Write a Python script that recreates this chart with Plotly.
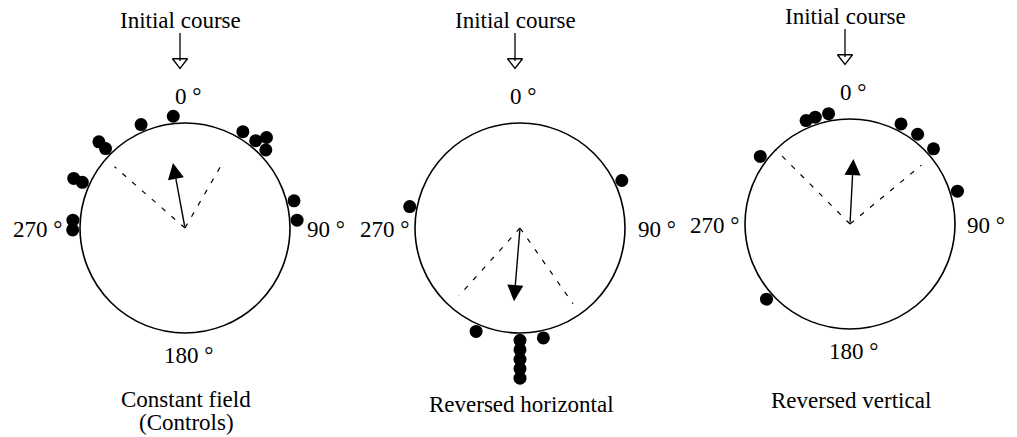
import numpy as np
import plotly.graph_objects as go

# ---------------- data ----------------
panel_titles = ["Constant field<br>(Controls)", "Reversed horizontal", "Reversed vertical"]

ctrl_angles = [354, 337, 315, 315, 294, 294, 274, 269, 31, 39, 42, 46, 76, 86]
ctrl_stack = [0, 0, 1, 0, 1, 0, 0, 0, 0, 0, 1, 0, 0, 0]

horiz_angles = [65, 281, 203, 168, 180, 180, 180, 180, 180]
horiz_stack = [0, 0, 0, 0, 0, 1, 2, 3, 4]

vert_angles = [337, 342, 349, 307, 27, 37, 48, 73, 228]
vert_stack = [0, 0, 0, 0, 0, 0, 0, 0, 0]

mean_angle = [349.5, 184.7, 3.0]
mean_length = [0.63, 0.70, 0.62]

ci_low_angle = [311, 222, 315]
ci_low_len = [0.89, 0.87, 1.0]
ci_high_angle = [30, 145, 50.5]
ci_high_len = [0.73, 0.88, 0.88]

compass_labels = ["0 °", "90 °", "180 °", "270 °"]
show_180 = [True, False, True]
top_label = "Initial course"

# ---------------- layout constants ----------------
FIG_W, FIG_H = 1017, 437
R_PX = 105.0
centers = [(185, 228), (520, 228), (850, 224)]
PANEL_W = 330
FONT = "Liberation Serif, Times New Roman, serif"
FS = 23
DOT_R0 = 1.07
DOT_STEP = 0.09
LINE_GAP = 23
title_offsets = [171, 176, 176]

ew_offsets = [(-148, 141), (-136, 137), (-136, 136)]


def polar_xy(ang, r):
    a = np.deg2rad(np.asarray(ang, dtype=float))
    r = np.asarray(r, dtype=float)
    return r * np.sin(a), r * np.cos(a)


fig = go.Figure()
annotations = []
shapes = []

dot_sets = [(ctrl_angles, ctrl_stack), (horiz_angles, horiz_stack), (vert_angles, vert_stack)]

for i, (cx, cy) in enumerate(centers):
    suffix = "" if i == 0 else str(i + 1)
    xref, yref = "x" + suffix, "y" + suffix
    xa, ya = "xaxis" + suffix, "yaxis" + suffix
    half = PANEL_W / 2.0
    fig.update_layout({
        xa: dict(domain=[max(0, (cx - half) / FIG_W), min(1, (cx + half) / FIG_W)],
                 range=[-half / R_PX, half / R_PX], visible=False, fixedrange=True),
        ya: dict(domain=[0, 1], range=[-(FIG_H - cy) / R_PX, cy / R_PX],
                 visible=False, fixedrange=True),
    })

    def to_data(dx_px, dy_px):
        return dx_px / R_PX, -dy_px / R_PX

    def label(dx_px, dy_px, txt):
        x, y = to_data(dx_px, dy_px)
        annotations.append(dict(x=x, y=y, xref=xref, yref=yref, text=txt, showarrow=False,
                                font=dict(family=FONT, size=FS, color="black"),
                                xanchor="center", yanchor="middle"))

    # circle
    shapes.append(dict(type="circle", xref=xref, yref=yref, x0=-1, y0=-1, x1=1, y1=1,
                       line=dict(color="black", width=1.6)))

    # confidence limits (dashed)
    for ang, ln in ((ci_low_angle[i], ci_low_len[i]), (ci_high_angle[i], ci_high_len[i])):
        ex, ey = polar_xy([0, ang], [0, ln])
        fig.add_trace(go.Scatter(x=ex, y=ey, mode="lines", xaxis=xref, yaxis=yref,
                                 line=dict(color="black", width=1.2, dash="5px,8px"),
                                 hoverinfo="skip", showlegend=False))

    # mean vector arrow
    tx, ty = polar_xy(mean_angle[i], mean_length[i])
    annotations.append(dict(x=float(tx), y=float(ty), ax=0, ay=0, xref=xref, yref=yref,
                            axref=xref, ayref=yref, text="", showarrow=True,
                            arrowhead=2, arrowsize=2.3, arrowwidth=1.4, arrowcolor="black",
                            standoff=0))

    # dots
    angs, stk = dot_sets[i]
    rr = DOT_R0 + DOT_STEP * np.asarray(stk)
    dx, dy = polar_xy(angs, rr)
    fig.add_trace(go.Scatter(x=dx, y=dy, mode="markers", xaxis=xref, yaxis=yref,
                             marker=dict(color="black", size=13, line=dict(width=0)),
                             cliponaxis=False, hoverinfo="skip", showlegend=False))

    # Initial course arrow
    lx, ly_top = to_data(-5, -195)
    _, ly_bot = to_data(-5, -167)
    fig.add_trace(go.Scatter(x=[lx, lx], y=[ly_top, ly_bot], mode="lines", xaxis=xref, yaxis=yref,
                             line=dict(color="black", width=1.3), hoverinfo="skip", showlegend=False))
    _, tri_y = to_data(-5, -166)
    fig.add_trace(go.Scatter(x=[lx], y=[tri_y], mode="markers", xaxis=xref, yaxis=yref,
                             marker=dict(symbol="triangle-down-open", size=13, color="black",
                                         line=dict(width=1.3, color="black")),
                             cliponaxis=False, hoverinfo="skip", showlegend=False))
    label(-5, -208, top_label)

    # compass labels
    label(3, -132, compass_labels[0])
    label(ew_offsets[i][1], 1, compass_labels[1])
    label(ew_offsets[i][0], 1, compass_labels[3])
    if show_180[i]:
        label(3, 127, compass_labels[2])

    # panel title (one annotation per line for tight spacing)
    for k, line_txt in enumerate(panel_titles[i].split("<br>")):
        label(1, title_offsets[i] + k * LINE_GAP, line_txt)

fig.update_layout(width=FIG_W, height=FIG_H, margin=dict(l=0, r=0, t=0, b=0),
                  paper_bgcolor="white", plot_bgcolor="white",
                  shapes=shapes, annotations=annotations, showlegend=False)

fig.write_html("out.html", config={"displayModeBar": False},
               post_script="document.body.style.margin='0';document.body.style.padding='0';")
